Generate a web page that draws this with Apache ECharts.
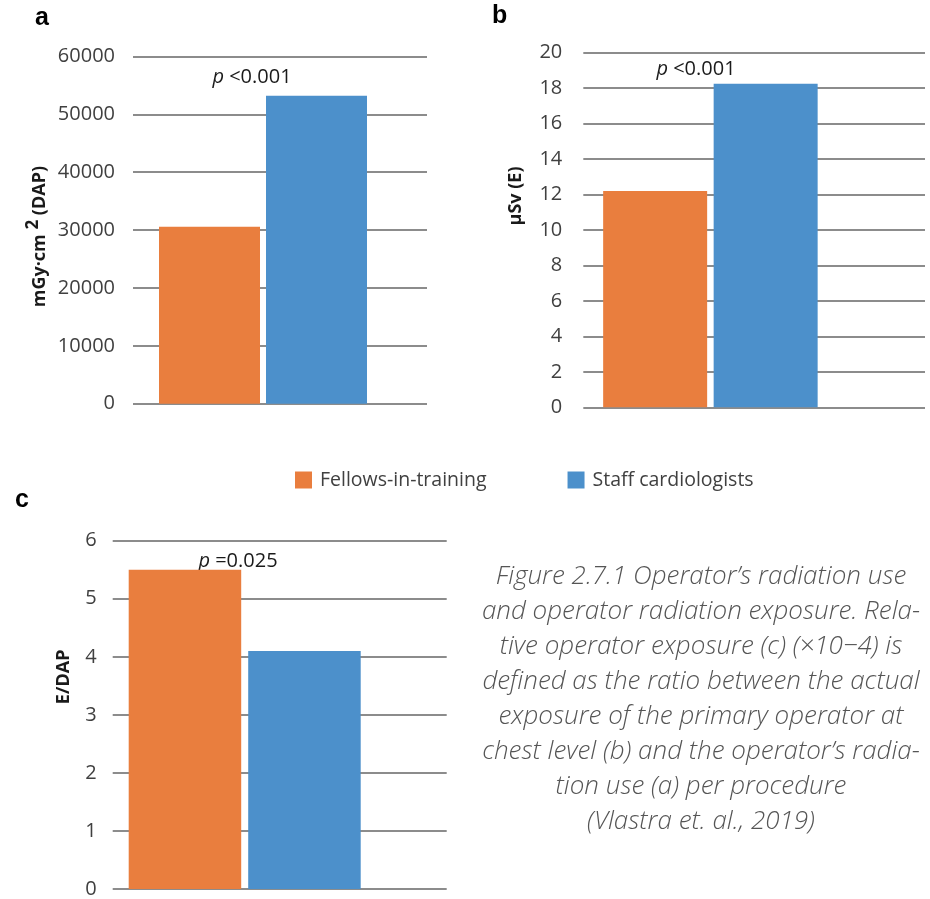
<!DOCTYPE html>
<html>
<head>
<meta charset="utf-8">
<script src="https://cdn.jsdelivr.net/npm/echarts@6/dist/echarts.min.js"></script>
<style>html,body{margin:0;padding:0;background:#fff}#c{width:930px;height:899px}</style>
</head>
<body>
<div id="c"></div>
<script>
// ---- data ----
const categories = ['Fellows-in-training', 'Staff cardiologists'];
const dapValues = [30600, 53200];        // panel a, mGy·cm² (DAP)
const exposureValues = [12.2, 18.25];     // panel b, µSv (E)
const ratioValues = [5.5, 4.1];           // panel c, E/DAP
const pLabels = ['<0.001', '<0.001', '=0.025'];
const panelLetters = ['a', 'b', 'c'];
const yTicksA = {min: 0, max: 60000, interval: 10000};
const yTicksB = {min: 0, max: 20, interval: 2};
const yTicksC = {min: 0, max: 6, interval: 1};
const captionLines = [
  'Figure 2.7.1 Operator\u2019s radiation use',
  'and operator radiation exposure. Rela-',
  'tive operator exposure (c) (\u00d710\u22124) is',
  'defined as the ratio between the actual',
  'exposure of the primary operator at',
  'chest level (b) and the operator\u2019s radia-',
  'tion use (a) per procedure',
  '(Vlastra et. al., 2019)'
];

// ---- style ----
const colors = ['#E97E3E', '#4C90CB'];
const gridColor = '#8c8c8c';
const labelColor = '#404040';
const FONT = '"Open Sans", "Noto Sans", sans-serif';

const panels = [
  {grid: {left: 133, top: 56.5, width: 294, height: 347.2}, ticks: yTicksA, values: dapValues,
   barW: [101, 101], gap: 6, spacer: 28, margin: 18,
   name: '{t|mGy\u00b7cm }{s|2}{t| (DAP)}', nameGap: 71, namePad: [0, 13, 0, 0]},
  {grid: {left: 583.3, top: 52.7, width: 341.7, height: 354.6}, ticks: yTicksB, values: exposureValues,
   barW: [104, 104], gap: 6.5, spacer: 81, margin: 21,
   name: '{t|\u00b5Sv (E)}', nameGap: 55, namePad: [0, 0, 0, 68]},
  {grid: {left: 112.7, top: 540.7, width: 334, height: 351.6}, ticks: yTicksC, values: ratioValues,
   barW: [112.5, 112.5], gap: 7, spacer: 63, margin: 16,
   name: '{t|E/DAP}', nameGap: 37, namePad: [0, 0, 0, 76]}
];

const grids = [], xAxes = [], yAxes = [], series = [];
panels.forEach((p, i) => {
  grids.push(p.grid);
  xAxes.push({type: 'category', gridIndex: i, data: [''],
    axisLine: {show: false}, axisTick: {show: false}, axisLabel: {show: false}});
  yAxes.push({type: 'value', gridIndex: i, min: p.ticks.min, max: p.ticks.max, interval: p.ticks.interval,
    axisLine: {show: false}, axisTick: {show: false},
    axisLabel: {color: labelColor, fontSize: 20, fontFamily: FONT, margin: p.margin,
      formatter: v => String(v)},
    splitLine: {lineStyle: {color: gridColor, width: 2}},
    name: p.name, nameLocation: 'middle', nameRotate: 90, nameGap: p.nameGap,
    nameTextStyle: {padding: p.namePad,
      rich: {
        t: {fontSize: 18, fontWeight: 'bold', fontFamily: FONT, color: '#1a1a1a', lineHeight: 24},
        s: {fontSize: 17, fontWeight: 'bold', fontFamily: FONT, color: '#1a1a1a', lineHeight: 24, padding: [0, 0, 12, 0]}
      }}
  });
  const g = p.gap / p.barW[0];
  categories.forEach((c, k) => {
    series.push({type: 'bar', name: c, xAxisIndex: i, yAxisIndex: i, data: [p.values[k]],
      barWidth: p.barW[k], barGap: (g * 100) + '%', itemStyle: {color: colors[k]}, silent: true});
  });
  series.push({type: 'bar', name: 'spacer', xAxisIndex: i, yAxisIndex: i, data: [0],
    barWidth: p.spacer, barGap: (g * 100) + '%', itemStyle: {color: 'rgba(0,0,0,0)'}, silent: true});
});

const pPos = [[252, 77], [696, 69], [238, 561]];
const letterPos = [[35, 18], [492, 16], [15, 500]];
const graphics = [];
panelLetters.forEach((l, i) => {
  graphics.push({type: 'text', x: letterPos[i][0], y: letterPos[i][1],
    style: {text: l, fontSize: 25, fontWeight: 'bold', fontFamily: '"Liberation Sans", Arial, sans-serif',
      fill: '#000', align: 'left', verticalAlign: 'middle'}});
});
pLabels.forEach((t, i) => {
  graphics.push({type: 'text', x: pPos[i][0], y: pPos[i][1],
    style: {text: '{i|p}{n| ' + t + '}', align: 'center', verticalAlign: 'middle',
      rich: {i: {fontSize: 20, fontStyle: 'italic', fontFamily: FONT, fill: '#1a1a1a'},
             n: {fontSize: 20, fontFamily: FONT, fill: '#1a1a1a'}}}});
});
captionLines.forEach((t, i) => {
  graphics.push({type: 'text', x: 701, y: 577 + 35 * i,
    style: {text: t, fontSize: 26, fontStyle: 'italic', fontWeight: 300, fontFamily: '"Open Sans", Lato, sans-serif',
      fill: '#555', align: 'center', verticalAlign: 'middle'}});
});

const chart = echarts.init(document.getElementById('c'), null, {renderer: 'canvas'});
chart.setOption({
  animation: false,
  backgroundColor: '#fff',
  color: colors,
  grid: grids,
  xAxis: xAxes,
  yAxis: yAxes,
  legend: {data: categories, left: 295, top: 470, itemWidth: 17, itemHeight: 17, itemGap: 81,
    icon: 'rect', padding: 0,
    textStyle: {fontSize: 19.5, fontFamily: FONT, color: labelColor, padding: [0, 0, 0, 3]}},
  series: series,
  graphic: graphics
});
</script>
</body>
</html>
